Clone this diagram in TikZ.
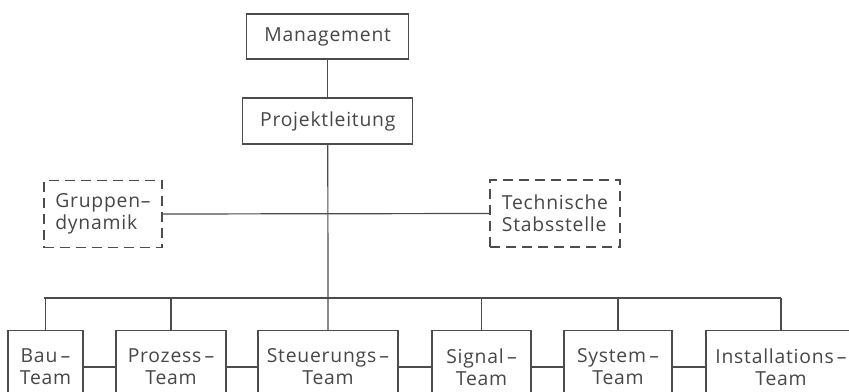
\documentclass[tikz,border=0pt]{standalone}
\usepackage{fontspec}
\setmainfont[LetterSpace=4]{Open Sans}
\begin{document}
\begin{tikzpicture}[x=0.75pt,y=-0.75pt,
  line/.style={draw=black!70, line width=0.9pt},
  bx/.style 2 args={draw=black!70, line width=0.9pt, rectangle, inner sep=0pt,
     minimum width=#1*0.75pt, minimum height=#2*0.75pt, align=center,
     text=black!72, font=\fontsize{14.5}{16.5}\selectfont},
  dbx/.style 2 args={bx={#1}{#2}, align=left, dash pattern=on 7.5pt off 4.5pt}]
\clip (0,0) rectangle (849,392);
\fill[white] (0,0) rectangle (849,392);
\node[bx={162}{45}] (mgmt) at (327.7,36.5) {Management};
\node[bx={170}{46}] (pl) at (327.8,121) {Projektleitung};
\node[dbx={118}{67}] (grp) at (103,214) {Gruppen–\\dynamik};
\node[dbx={130}{67}] (tech) at (555,213.5) {Technische\\Stabsstelle};
\node[bx={75}{72.6}] (bau) at (45.5,367) {Bau\,–\\Team};
\node[bx={110}{72.6}] (proz) at (171,367) {Prozess\,–\\Team};
\node[bx={140}{72.6}] (steu) at (328,367) {Steuerungs\,–\\Team};
\node[bx={99}{72.6}] (sig) at (481.5,367) {Signal\,–\\Team};
\node[bx={108}{72.6}] (sys) at (618,367) {System\,–\\Team};
\node[bx={150}{72.6}] (inst) at (781,367) {Installations\,–\\Team};
\coordinate (busL) at (44,298);
\coordinate (busR) at (781,298);
\draw[line] (mgmt.south -| pl.south) -- (pl.north);
\draw[line] (pl.south) -- (steu.north);
\draw[line] (grp.east) -- (tech.west);
\draw[line] (busL) -- (busR);
\foreach \n in {bau,proz,sig,sys,inst}
  \draw[line] (\n.north) -- (\n.north |- busL);
\draw[line] (bau) -- (proz);
\draw[line] (proz) -- (steu);
\draw[line] (steu) -- (sig);
\draw[line] (sig) -- (sys);
\draw[line] (sys) -- (inst);
\end{tikzpicture}
\end{document}
